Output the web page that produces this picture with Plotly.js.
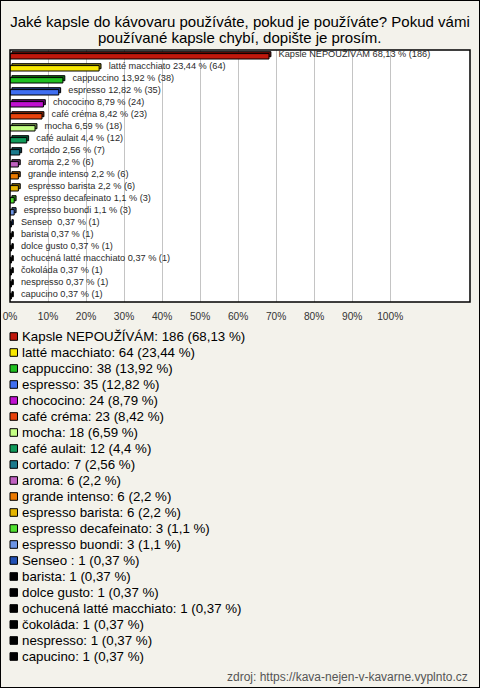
<!DOCTYPE html>
<html>
<head>
<meta charset="utf-8">
<script src="https://cdn.plot.ly/plotly-3.0.1.min.js"></script>
<style>
  html, body { margin: 0; padding: 0; background: #f3f2eb; }
  #wrap { position: relative; width: 480px; height: 688px; }
  #chart { width: 480px; height: 688px; }
  #frame { position: absolute; left: 0; top: 0; width: 478px; height: 686px; border: 1px solid #000; pointer-events: none; }
</style>
</head>
<body>
<div id="wrap"><div id="chart"></div><div id="frame"></div></div>
<script>
// ---- data ----
const categories = [
  "Kapsle NEPOUŽÍVÁM", "latté macchiato", "cappuccino", "espresso", "chococino",
  "café créma", "mocha", "café aulait", "cortado", "aroma", "grande intenso",
  "espresso barista", "espresso decafeinato", "espresso buondi", "Senseo ",
  "barista", "dolce gusto", "ochucená latté macchiato", "čokoláda", "nespresso", "capucino"
];
const counts = [186, 64, 38, 35, 24, 23, 18, 12, 7, 6, 6, 6, 3, 3, 1, 1, 1, 1, 1, 1, 1];
const percents = [68.13, 23.44, 13.92, 12.82, 8.79, 8.42, 6.59, 4.4, 2.56, 2.2, 2.2, 2.2, 1.1, 1.1, 0.37, 0.37, 0.37, 0.37, 0.37, 0.37, 0.37];
const colors = [
  "#c0180c", "#f8e800", "#20c020", "#3f6ef0", "#c010d0",
  "#e8420c", "#c4ff84", "#109a5a", "#1c7a8c", "#c060c0", "#ec7a00",
  "#e4b400", "#50e030", "#6c94e4", "#2250b4",
  "#000000", "#000000", "#000000", "#000000", "#000000", "#000000"
];
const tickValues = [0, 10, 20, 30, 40, 50, 60, 70, 80, 90, 100];
const tickLabels = ["0%", "10%", "20%", "30%", "40%", "50%", "60%", "70%", "80%", "90%", "100%"];
const titleLine1 = "Jaké kapsle do kávovaru používáte, pokud je používáte? Pokud vámi";
const titleLine2 = "používané kapsle chybí, dopište je prosím.";
const sourceText = "zdroj: https://kava-nejen-v-kavarne.vyplnto.cz";

// ---- helpers ----
const fmt = v => String(v).replace('.', ',');
function darker(hex, f) {
  const n = parseInt(hex.slice(1), 16);
  const r = Math.round(((n >> 16) & 255) * f), g = Math.round(((n >> 8) & 255) * f), b = Math.round((n & 255) * f);
  return 'rgb(' + r + ',' + g + ',' + b + ')';
}
const barLabels = categories.map((c, i) => c + ' ' + fmt(percents[i]) + ' % (' + counts[i] + ')');
const legendLabels = categories.map((c, i) => c + ': ' + counts[i] + ' (' + fmt(percents[i]) + ' %)');

const FONT = 'Liberation Sans, Arial, sans-serif';
const ML = 10, MR = 10, MT = 50, MB = 386, W = 480, H = 688;
const PW = W - ML - MR, PH = H - MT - MB;
const px2x = p => (p - ML) / PW;
const py2y = p => (MT + PH - p) / PH;

// back (depth) face of the 3D bars
const back = {
  type: 'bar', orientation: 'h', y: categories, x: percents, base: 0.5,
  marker: { color: colors.map(c => darker(c, 0.55)), line: { color: '#000', width: 1 } },
  width: 0.42, offset: -0.36,
  text: barLabels, texttemplate: '\u00a0\u00a0\u00a0%{text}', textposition: 'outside',
  textfont: { family: FONT, size: 9.2, color: '#2a2a2a' },
  constraintext: 'none', cliponaxis: false, hoverinfo: 'skip', showlegend: false
};
// front face
const front = {
  type: 'bar', orientation: 'h', y: categories, x: percents,
  marker: { color: colors, line: { color: '#000', width: 1 } },
  width: 0.45, offset: -0.2, cliponaxis: false, showlegend: false,
  hovertemplate: '%{y}: %{x} %<extra></extra>'
};

const annotations = [{
  xref: 'paper', yref: 'paper', x: px2x(240), y: py2y(37.5), xanchor: 'center', yanchor: 'middle',
  text: titleLine2, showarrow: false, font: { family: FONT, size: 15, color: '#000' }
}];
const shapes = [{
  type: 'rect', xref: 'paper', yref: 'paper', x0: 0, x1: 1, y0: 0, y1: 1,
  line: { color: '#000', width: 1.5 }, fillcolor: 'rgba(0,0,0,0)', layer: 'above'
}];
categories.forEach((c, i) => {
  const yc = 336.5 + 16 * i;
  shapes.push({
    type: 'rect', xref: 'paper', yref: 'paper',
    x0: px2x(10), x1: px2x(17.5), y0: py2y(yc + 3.8), y1: py2y(yc - 3.8),
    fillcolor: colors[i], line: { color: '#000', width: 1 }
  });
  annotations.push({
    xref: 'paper', yref: 'paper', x: px2x(19.5), y: py2y(yc), xanchor: 'left', yanchor: 'middle',
    text: legendLabels[i], showarrow: false, font: { family: FONT, size: 13.3, color: '#000' }
  });
});
annotations.push({
  xref: 'paper', yref: 'paper', x: px2x(470), y: py2y(677), xanchor: 'right', yanchor: 'middle',
  text: sourceText, showarrow: false, font: { family: FONT, size: 12, color: '#555' }
});

const layout = {
  width: W, height: H,
  margin: { l: ML, r: MR, t: MT, b: MB, pad: 0 },
  paper_bgcolor: '#f3f2eb', plot_bgcolor: '#ffffff',
  barmode: 'overlay', showlegend: false,
  title: {
    text: titleLine1, font: { family: FONT, size: 15, color: '#000' },
    x: 0.5, xref: 'container', xanchor: 'center', y: 1 - 21.7 / H, yref: 'container', yanchor: 'middle'
  },
  xaxis: {
    range: [0, 121], fixedrange: true,
    tickvals: tickValues, ticktext: tickLabels,
    showgrid: true, gridcolor: '#c4c4c4', gridwidth: 1, zeroline: false,
    ticks: 'outside', ticklen: 5, tickcolor: 'rgba(0,0,0,0)',
    tickfont: { family: FONT, size: 10.2, color: '#333' },
    showline: false
  },
  yaxis: {
    type: 'category', range: [20.5, -0.5], fixedrange: true,
    showticklabels: false, showgrid: false, zeroline: false, ticks: ''
  },
  shapes: shapes,
  annotations: annotations
};

Plotly.newPlot('chart', [back, front], layout, { staticPlot: true, displayModeBar: false });
</script>
</body>
</html>
